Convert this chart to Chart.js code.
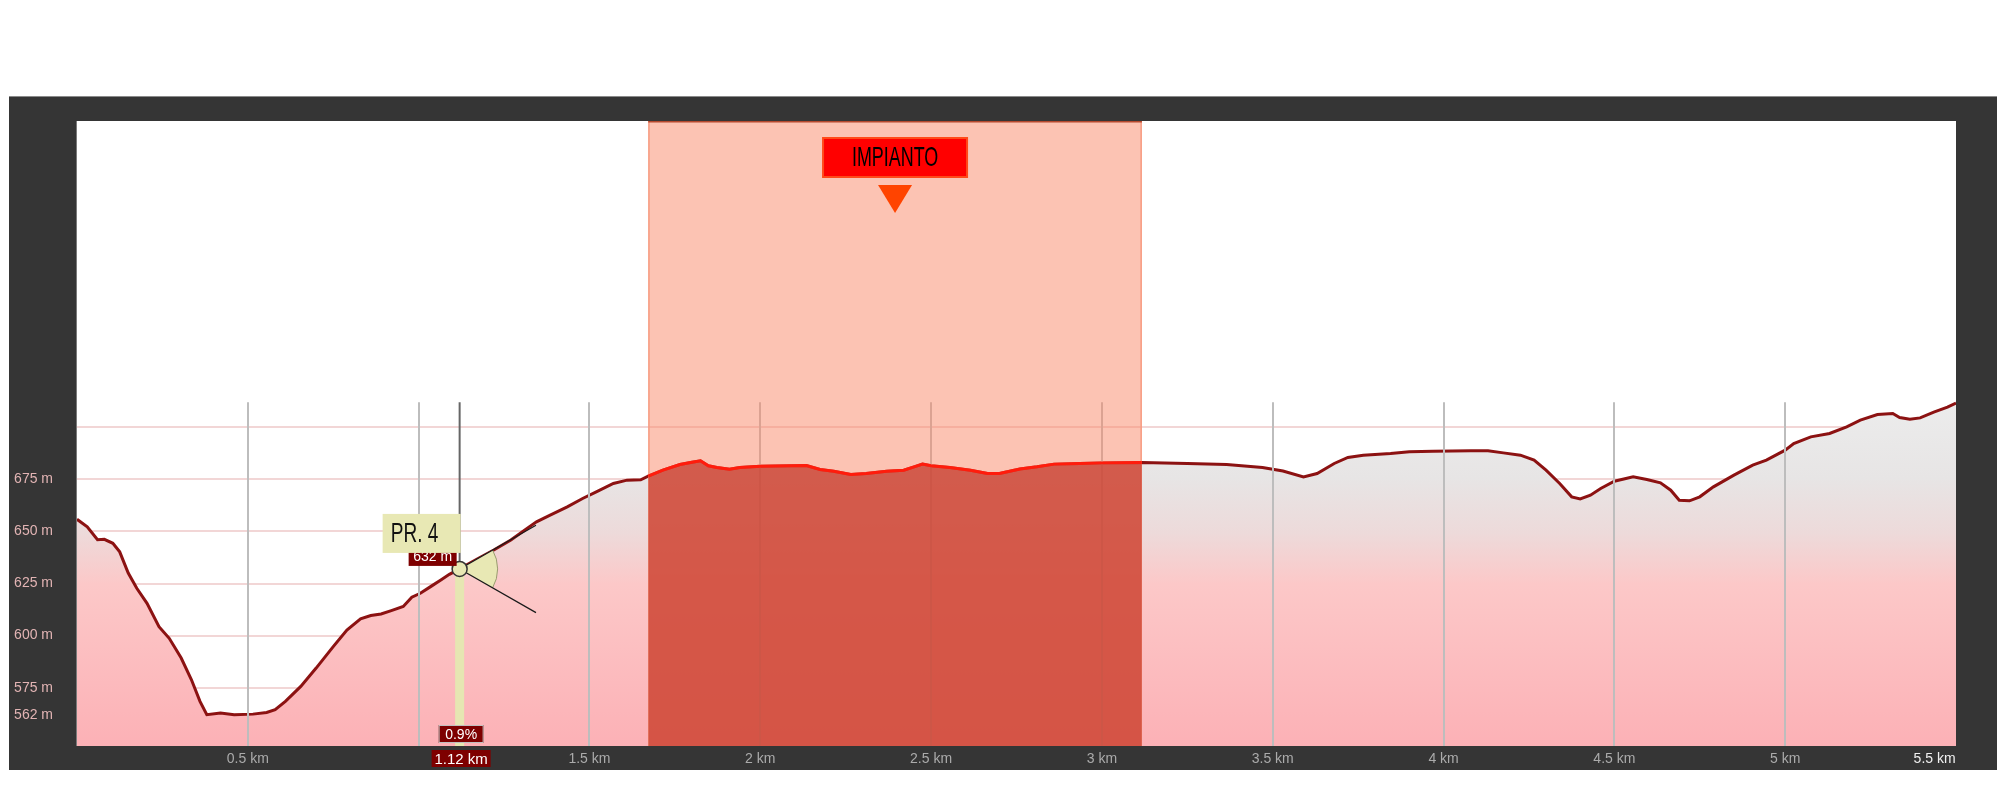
<!DOCTYPE html>
<html>
<head>
<meta charset="utf-8">
<title>Profilo altimetrico</title>
<script src="https://cdn.jsdelivr.net/npm/chart.js@4.4.1/dist/chart.umd.min.js"></script>
<style>
  html, body { margin: 0; padding: 0; background: #fff; }
  #wrap { width: 1997px; height: 791px; position: relative; }
</style>
</head>
<body>
<div id="wrap"><canvas id="profile"></canvas></div>
<script>
// profilo altimetrico: distanza (km) e quota (m)
const distKm = [
  0.00, 0.03, 0.06, 0.08, 0.105, 0.125, 0.15, 0.175, 0.205, 0.24,
  0.27, 0.305, 0.335, 0.36, 0.38, 0.42, 0.46, 0.515, 0.555, 0.58,
  0.61, 0.655, 0.70, 0.75, 0.79, 0.83, 0.86, 0.89, 0.92, 0.955,
  0.98, 1.005, 1.035, 1.065, 1.09, 1.12, 1.17, 1.22, 1.27, 1.31,
  1.345, 1.385, 1.435, 1.48, 1.52, 1.57, 1.61, 1.65, 1.672, 1.715,
  1.765, 1.80, 1.825, 1.848, 1.873, 1.91, 1.94, 2.0, 2.135, 2.175,
  2.215, 2.265, 2.31, 2.37, 2.42, 2.45, 2.475, 2.50, 2.555, 2.615,
  2.665, 2.70, 2.76, 2.81, 2.86, 2.935, 3.0, 3.117, 3.25, 3.365,
  3.47, 3.53, 3.59, 3.63, 3.68, 3.72, 3.765, 3.845, 3.90, 3.97,
  4.08, 4.13, 4.175, 4.225, 4.265, 4.30, 4.34, 4.375, 4.40, 4.43,
  4.46, 4.50, 4.555, 4.595, 4.635, 4.665, 4.69, 4.72, 4.75, 4.79,
  4.85, 4.905, 4.945, 5.0, 5.025, 5.075, 5.13, 5.18, 5.22, 5.27,
  5.315, 5.335, 5.365, 5.395, 5.435, 5.475, 5.5
];
const elevM = [
  655.8, 652.2, 646.0, 646.2, 644.3, 640.2, 630.0, 622.7, 615.5, 604.3,
  598.7, 589.2, 578.8, 568.4, 562.0, 562.8, 562.0, 562.3, 563.1, 564.4,
  568.4, 575.6, 584.4, 594.7, 602.7, 608.0, 609.6, 610.4, 612.0, 614.0,
  618.4, 620.3, 623.5, 626.7, 629.4, 632.0, 636.6, 641.1, 645.9, 650.6,
  654.6, 657.8, 661.8, 665.8, 669.0, 673.0, 674.6, 674.8, 676.5, 679.4,
  682.1, 683.2, 683.9, 681.5, 680.7, 679.9, 680.7, 681.3, 681.6, 679.7,
  678.9, 677.3, 677.8, 678.9, 679.4, 681.0, 682.3, 681.5, 680.7, 679.4,
  677.8, 677.8, 680.0, 681.0, 682.3, 682.6, 682.9, 683.1, 682.6, 682.1,
  680.7, 679.0, 676.2, 677.8, 682.6, 685.5, 686.6, 687.4, 688.2, 688.5,
  688.7, 688.7, 687.7, 686.6, 684.2, 679.4, 673.0, 666.6, 665.6, 667.4,
  670.6, 674.1, 676.2, 674.9, 673.3, 669.8, 665.0, 664.7, 666.6, 671.4,
  677.0, 681.8, 684.2, 689.0, 692.2, 695.4, 697.0, 700.2, 703.4, 706.1,
  706.6, 704.7, 703.9, 704.5, 707.3, 709.7, 711.6
];

const xTickValues = [0, 0.5, 1, 1.5, 2, 2.5, 3, 3.5, 4, 4.5, 5, 5.5];
const xTickLabels = ['', '0.5 km', '', '1.5 km', '2 km', '2.5 km', '3 km', '3.5 km', '4 km', '4.5 km', '5 km', '5.5 km'];
const yTickValues = [562, 575, 600, 625, 650, 675, 700];
const yTickLabels = ['562 m', '575 m', '600 m', '625 m', '650 m', '675 m', ''];

// tratto evidenziato
const bandStartKm = 1.672;
const bandEndKm = 3.117;
const bandLabel = 'IMPIANTO';

// punto selezionato
const cursorKm = 1.12;
const cursorName = 'PR. 4';
const cursorGrade = '0.9%';
const gridTopM = 712;

const profilePoints = distKm.map((d, i) => ({ x: d, y: elevM[i] }));
const bandPoints = profilePoints.filter(p => p.x >= bandStartKm && p.x <= bandEndKm);
const cursorElev = elevM[distKm.indexOf(cursorKm)];

function profileFill(context) {
  const chart = context.chart;
  const area = chart.chartArea;
  if (!area) return '#fcc8c8';
  const y = chart.scales.y;
  const top = y.getPixelForValue(gridTopM);
  const g = chart.ctx.createLinearGradient(0, top, 0, area.bottom);
  g.addColorStop(0, '#ececec');
  g.addColorStop(0.22, '#e7e5e5');
  g.addColorStop(0.38, '#eddada');
  g.addColorStop(0.53, '#fcc8c8');
  g.addColorStop(1, '#fcb1b6');
  return g;
}

function narrowText(ctx, text, x, y, size, squeeze, color) {
  ctx.save();
  ctx.translate(x, y);
  ctx.scale(squeeze, 1);
  ctx.font = size + 'px "Liberation Sans", Arial, sans-serif';
  ctx.fillStyle = color;
  ctx.textAlign = 'center';
  ctx.textBaseline = 'middle';
  ctx.fillText(text, 0, 0);
  ctx.restore();
}

function darkTag(ctx, text, x0, y0, x1, y1, size, border) {
  ctx.fillStyle = '#7e0000';
  ctx.fillRect(x0, y0, x1 - x0, y1 - y0);
  if (border) {
    ctx.strokeStyle = border;
    ctx.lineWidth = 1;
    ctx.strokeRect(x0 + 0.5, y0 + 0.5, x1 - x0 - 1, y1 - y0 - 1);
  }
  ctx.fillStyle = '#ffffff';
  ctx.font = size + 'px "Liberation Sans", Arial, sans-serif';
  ctx.textAlign = 'center';
  ctx.textBaseline = 'middle';
  ctx.fillText(text, (x0 + x1) / 2, (y0 + y1) / 2 + 1);
}

const framePlugin = {
  id: 'frame',
  beforeDraw(chart) {
    const { ctx, chartArea: a } = chart;
    ctx.save();
    ctx.fillStyle = '#ffffff';
    ctx.fillRect(0, 0, chart.width, chart.height);
    ctx.fillStyle = '#353535';
    ctx.fillRect(9, 96, chart.width - 9, a.bottom + 24 - 96);
    ctx.fillStyle = '#8a8a8a';
    ctx.fillRect(9, 96, chart.width - 9, 1);
    ctx.fillStyle = '#ffffff';
    ctx.fillRect(a.left, a.top, a.right - a.left, a.bottom - a.top);
    ctx.fillStyle = '#7a7a7a';
    ctx.fillRect(a.left - 1, a.top, 1, a.bottom - a.top);
    ctx.restore();
  },
  afterDatasetDraw(chart, args) {
    if (args.index !== 0) return;
    const { ctx, chartArea: a, scales: { x, y } } = chart;
    const gTop = y.getPixelForValue(gridTopM);
    ctx.save();
    // griglia verticale
    ctx.strokeStyle = '#bdbdbd';
    ctx.lineWidth = 2;
    xTickValues.forEach(v => {
      if (v <= 0 || v >= 5.5) return;
      const px = Math.round(x.getPixelForValue(v));
      ctx.beginPath();
      ctx.moveTo(px, gTop);
      ctx.lineTo(px, a.bottom);
      ctx.stroke();
    });
    // fascia evidenziata
    const bx0 = x.getPixelForValue(bandStartKm);
    const bx1 = x.getPixelForValue(bandEndKm);
    ctx.fillStyle = 'rgba(249,135,103,0.5)';
    ctx.fillRect(bx0, a.top, bx1 - bx0, a.bottom - a.top);
    ctx.fillStyle = '#f79c82';
    ctx.fillRect(bx0, a.top, 1.5, a.bottom - a.top);
    ctx.fillRect(bx1 - 1.5, a.top, 1.5, a.bottom - a.top);
    ctx.fillStyle = '#b4492e';
    ctx.fillRect(bx0, a.top, bx1 - bx0, 1.5);
    ctx.restore();
  },
  afterDraw(chart) {
    const { ctx, chartArea: a, scales: { x, y } } = chart;
    const gTop = y.getPixelForValue(gridTopM);
    const cx = x.getPixelForValue(cursorKm);
    const cy = y.getPixelForValue(cursorElev);
    ctx.save();

    // linea cursore
    ctx.strokeStyle = '#666666';
    ctx.lineWidth = 2;
    ctx.beginPath();
    ctx.moveTo(cx, gTop);
    ctx.lineTo(cx, cy - 7);
    ctx.stroke();
    ctx.fillStyle = '#e6e6b2';
    ctx.fillRect(cx - 4.5, cy + 6, 9, a.bottom - cy - 6);

    // settore pendenza
    const ang = 0.52;
    ctx.fillStyle = '#e8e8b4';
    ctx.beginPath();
    ctx.moveTo(cx, cy);
    ctx.arc(cx, cy, 38, -ang, ang);
    ctx.closePath();
    ctx.fill();
    ctx.strokeStyle = '#9a9a70';
    ctx.lineWidth = 1;
    ctx.beginPath();
    ctx.arc(cx, cy, 38, -ang, ang);
    ctx.stroke();
    ctx.strokeStyle = '#1a1a1a';
    ctx.lineWidth = 1.2;
    ctx.beginPath();
    ctx.moveTo(cx, cy);
    ctx.lineTo(cx + 88 * Math.cos(ang), cy - 88 * Math.sin(ang));
    ctx.moveTo(cx, cy);
    ctx.lineTo(cx + 88 * Math.cos(ang), cy + 88 * Math.sin(ang));
    ctx.stroke();
    ctx.beginPath();
    ctx.arc(cx, cy, 7.5, 0, Math.PI * 2);
    ctx.fillStyle = '#e8e8b4';
    ctx.fill();
    ctx.strokeStyle = '#333333';
    ctx.lineWidth = 1.5;
    ctx.stroke();

    // etichette del punto
    darkTag(ctx, Math.round(cursorElev) + ' m', cx - 51, cy - 22, cx - 3, cy - 3, 14, null);
    ctx.fillStyle = '#e8e8b4';
    ctx.fillRect(cx - 77, cy - 55, 78, 39);
    narrowText(ctx, cursorName, cx - 45, cy - 35, 28, 0.68, '#111111');

    darkTag(ctx, cursorGrade, cx - 21, a.bottom - 21, cx + 24, a.bottom - 3, 14, '#bfbfbf');
    darkTag(ctx, cursorKm.toFixed(2) + ' km', cx - 28, a.bottom + 4, cx + 31, a.bottom + 21, 15, null);

    // etichetta impianto
    const bx = (x.getPixelForValue(bandStartKm) + x.getPixelForValue(bandEndKm)) / 2;
    ctx.fillStyle = '#ff0000';
    ctx.fillRect(bx - 72, a.top + 17, 144, 39);
    ctx.strokeStyle = '#ff4a1a';
    ctx.lineWidth = 2;
    ctx.strokeRect(bx - 72, a.top + 17, 144, 39);
    narrowText(ctx, bandLabel, bx, a.top + 37, 28, 0.64, '#000000');
    ctx.fillStyle = '#ff4400';
    ctx.beginPath();
    ctx.moveTo(bx - 17, a.top + 64);
    ctx.lineTo(bx + 17, a.top + 64);
    ctx.lineTo(bx, a.top + 92);
    ctx.closePath();
    ctx.fill();

    ctx.restore();
  }
};

new Chart(document.getElementById('profile'), {
  type: 'line',
  data: {
    datasets: [
      {
        label: 'Quota',
        data: profilePoints,
        borderColor: '#8c1212',
        borderWidth: 3,
        backgroundColor: profileFill,
        fill: 'start',
        pointRadius: 0,
        tension: 0,
        order: 2
      },
      {
        label: bandLabel,
        data: bandPoints,
        borderColor: '#ff1c0c',
        borderWidth: 3,
        backgroundColor: 'rgba(200,60,45,0.75)',
        fill: 'start',
        pointRadius: 0,
        tension: 0,
        order: 1
      }
    ]
  },
  options: {
    responsive: true,
    maintainAspectRatio: false,
    animation: false,
    layout: { padding: { left: 9, right: 41, top: 121, bottom: 21 } },
    plugins: { legend: { display: false }, tooltip: { enabled: false } },
    scales: {
      x: {
        type: 'linear',
        min: 0,
        max: 5.5,
        afterBuildTicks: scale => { scale.ticks = xTickValues.map(v => ({ value: v })); },
        afterFit: scale => {
          scale.height = 24;
          scale.paddingLeft = 0;
          scale.paddingRight = 0;
        },
        grid: { display: false, drawTicks: false },
        border: { display: false },
        ticks: {
          maxRotation: 0,
          autoSkip: false,
          padding: 5,
          font: { family: '"Liberation Sans", Arial, sans-serif', size: 14 },
          color: ctx => (ctx.index === xTickValues.length - 1 ? '#f0f0f0' : '#ababab'),
          // l'ultima etichetta termina sul bordo del grafico
          callback: (v, i) => (i === xTickValues.length - 1 ? xTickLabels[i] + '\u00a0'.repeat(11) : xTickLabels[i])
        }
      },
      y: {
        min: 547,
        max: 847,
        afterBuildTicks: scale => { scale.ticks = yTickValues.map(v => ({ value: v })); },
        afterFit: scale => { scale.width = 68; },
        grid: { color: 'rgba(236,196,196,0.7)', lineWidth: 2, drawTicks: false },
        border: { display: false },
        ticks: {
          padding: 24,
          font: { family: '"Liberation Sans", Arial, sans-serif', size: 14 },
          color: '#e2b4b4',
          callback: (v, i) => yTickLabels[i]
        }
      }
    }
  },
  plugins: [framePlugin]
});
</script>
</body>
</html>
